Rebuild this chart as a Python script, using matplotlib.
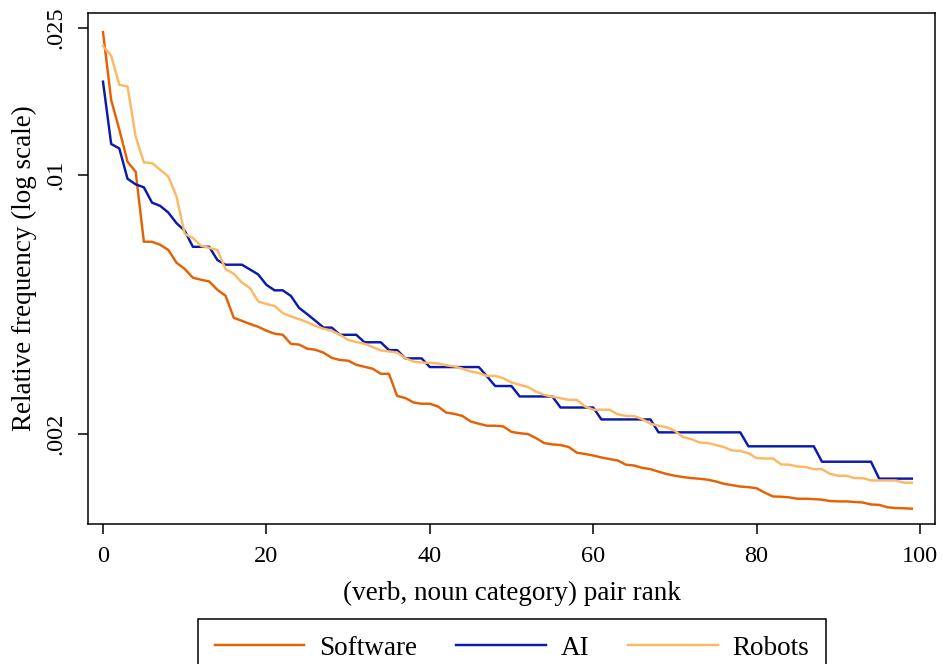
import numpy as np
import matplotlib
matplotlib.use("Agg")
import matplotlib.pyplot as plt
from matplotlib.ticker import FixedLocator, FixedFormatter, NullLocator

# relative frequency of each (verb, noun category) pair, sorted by rank
software = [
    0.02430, 0.01594, 0.01325, 0.01086, 0.01020, 0.006605, 0.006605, 0.00648, 0.006275, 0.005796,
    0.005579, 0.005282, 0.005216, 0.005160, 0.004900, 0.004723, 0.004118, 0.004040, 0.003962, 0.003893,
    0.003800, 0.003730, 0.003706, 0.003502, 0.003487, 0.003398, 0.003377, 0.003314, 0.003210, 0.003168,
    0.003155, 0.003075, 0.003038, 0.003001, 0.002908, 0.002908, 0.002534, 0.002502, 0.002433, 0.002414,
    0.002414, 0.002374, 0.002286, 0.002267, 0.002238, 0.002162, 0.002132, 0.002106, 0.002106, 0.002097,
    0.002027, 0.002010, 0.002000, 0.001950, 0.001891, 0.001875, 0.001868, 0.001845, 0.001781, 0.001767,
    0.001750, 0.001729, 0.001712, 0.001697, 0.001653, 0.001645, 0.001621, 0.001608, 0.001583, 0.001560,
    0.001543, 0.001531, 0.001521, 0.001515, 0.001506, 0.001490, 0.001468, 0.001456, 0.001443, 0.001438,
    0.001428, 0.001390, 0.001357, 0.001355, 0.001349, 0.001338, 0.001338, 0.001335, 0.001330, 0.001319,
    0.001316, 0.001316, 0.001311, 0.001307, 0.001291, 0.001288, 0.001269, 0.001263, 0.001261, 0.001258,
]

ai = [
    0.017854, 0.012127, 0.011790, 0.009769, 0.009432, 0.009264, 0.008422, 0.008253, 0.007916, 0.007411,
    0.007074, 0.006400, 0.006400, 0.006400, 0.005895, 0.005727, 0.005727, 0.005727, 0.005558, 0.005390,
    0.005053, 0.004884, 0.004884, 0.004716, 0.004379, 0.004211, 0.004042, 0.003874, 0.003874, 0.003705,
    0.003705, 0.003705, 0.003537, 0.003537, 0.003537, 0.003369, 0.003369, 0.003200, 0.003200, 0.003200,
    0.003032, 0.003032, 0.003032, 0.003032, 0.003032, 0.003032, 0.003032, 0.002863, 0.002695, 0.002695,
    0.002695, 0.002526, 0.002526, 0.002526, 0.002526, 0.002526, 0.002358, 0.002358, 0.002358, 0.002358,
    0.002358, 0.002190, 0.002190, 0.002190, 0.002190, 0.002190, 0.002190, 0.002190, 0.002021, 0.002021,
    0.002021, 0.002021, 0.002021, 0.002021, 0.002021, 0.002021, 0.002021, 0.002021, 0.002021, 0.001853,
    0.001853, 0.001853, 0.001853, 0.001853, 0.001853, 0.001853, 0.001853, 0.001853, 0.001684, 0.001684,
    0.001684, 0.001684, 0.001684, 0.001684, 0.001684, 0.001516, 0.001516, 0.001516, 0.001516, 0.001516,
]

robots = [
    0.02229, 0.02098, 0.01751, 0.01733, 0.01269, 0.01081, 0.01077, 0.01033, 0.009900, 0.008747,
    0.006938, 0.006759, 0.006439, 0.006356, 0.006277, 0.005569, 0.005414, 0.005127, 0.004950, 0.004555,
    0.004488, 0.004433, 0.004241, 0.004153, 0.004084, 0.004006, 0.003917, 0.003846, 0.003800, 0.003706,
    0.003590, 0.003543, 0.003502, 0.003433, 0.003362, 0.003341, 0.003320, 0.003204, 0.003136, 0.003118,
    0.003112, 0.003101, 0.003066, 0.003044, 0.003001, 0.002951, 0.002921, 0.002871, 0.002871, 0.002828,
    0.002754, 0.002716, 0.002678, 0.002605, 0.002551, 0.002523, 0.002498, 0.002473, 0.002473, 0.002374,
    0.002326, 0.002326, 0.002326, 0.002262, 0.002237, 0.002237, 0.002194, 0.002132, 0.002106, 0.002086,
    0.002040, 0.001962, 0.001938, 0.001898, 0.001891, 0.001868, 0.001845, 0.001805, 0.001801, 0.001775,
    0.001722, 0.001718, 0.001718, 0.001656, 0.001653, 0.001635, 0.001629, 0.001608, 0.001608, 0.001561,
    0.001543, 0.001543, 0.001521, 0.001521, 0.001499, 0.001499, 0.001499, 0.001499, 0.001478, 0.001478,
]

series_names = ["Software", "AI", "Robots"]
series_colors = ["#e66101", "#0a1aab", "#fdb863"]
y_ticks = [0.002, 0.01, 0.025]
y_tick_labels = [".002", ".01", ".025"]
x_ticks = [0, 20, 40, 60, 80, 100]

plt.rcParams["font.family"] = ["Liberation Serif", "DejaVu Serif"]

fig = plt.figure(figsize=(9.43, 6.64), dpi=100)
ax = fig.add_axes([0.09332, 0.21084, 0.89820, 0.76958])

rank = np.arange(len(software))
for vals, name, col in zip([software, ai, robots], series_names, series_colors):
    ax.plot(rank, vals, color=col, lw=1.75, label=name)

ax.set_yscale("log")
ax.set_xlim(-1.836, 101.836)
ax.set_ylim(0.0011436, 0.027357)

ax.yaxis.set_major_locator(FixedLocator(y_ticks))
ax.yaxis.set_major_formatter(FixedFormatter(y_tick_labels))
ax.yaxis.set_minor_locator(NullLocator())
ax.set_xticks(x_ticks)

for s in ax.spines.values():
    s.set_linewidth(1.1)
    s.set_color("black")

ax.tick_params(axis="both", direction="out", length=7.5, width=1.1, colors="black", labelsize=17.5)
ax.tick_params(axis="x", pad=8.2)
ax.tick_params(axis="y", pad=8)
for lab in ax.get_yticklabels():
    lab.set_rotation(90)
    lab.set_va("center")

ax.set_xlabel("(verb, noun category) pair rank", fontsize=19.5, labelpad=10.3)
ax.set_ylabel("Relative frequency (log scale)", fontsize=19.5, labelpad=6.4)

leg = fig.legend(loc="upper center", bbox_to_anchor=(0.543, 0.0678), ncol=3,
                 fontsize=19.5, frameon=True, fancybox=False, borderaxespad=0,
                 handlelength=3.3, handletextpad=0.55, columnspacing=1.45,
                 borderpad=0.62, edgecolor="black", framealpha=1)
leg.get_frame().set_linewidth(1.1)
for h in leg.get_lines():
    h.set_linewidth(1.75)

fig.savefig("out.png", dpi=100)
